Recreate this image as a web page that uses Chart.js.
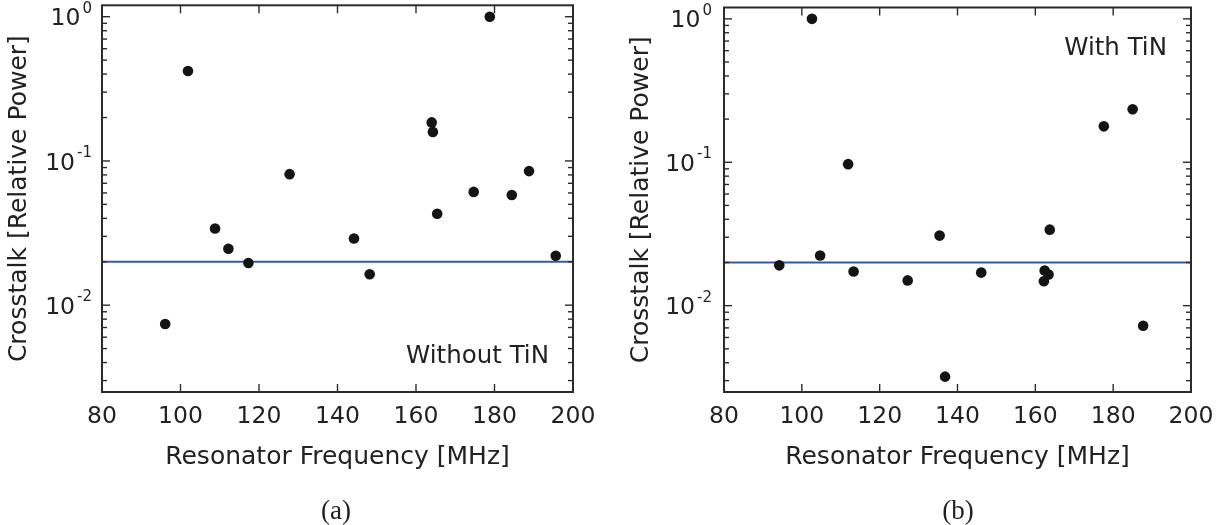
<!DOCTYPE html>
<html><head><meta charset="utf-8">
<script src="https://cdn.jsdelivr.net/npm/chart.js@4/dist/chart.umd.min.js"></script>
<style>
html,body{margin:0;padding:0;background:#fff;}
#wrap{position:relative;width:1231px;height:525px;overflow:hidden;}
#wrap canvas{position:absolute;left:0;top:0;}
.cap{position:absolute;font-family:"Liberation Serif","DejaVu Serif",serif;font-size:27px;color:#222;transform:translateX(-50%);line-height:1;}
</style></head><body>
<div id="wrap">
<canvas id="ca" width="1231" height="525"></canvas>
<canvas id="cb" width="1231" height="525"></canvas>
<div class="cap" style="left:336px;top:497px">(a)</div>
<div class="cap" style="left:958px;top:497px">(b)</div>
</div>
<script>
// ---- data ----
const freqA = [96.1, 101.9, 108.8, 112.2, 117.3, 127.8, 144.2, 148.2, 164.0, 164.3, 165.4, 174.7, 178.8, 184.4, 188.8, 195.6];
const crosstalkA = [0.0074, 0.42, 0.034, 0.0246, 0.0196, 0.081, 0.029, 0.0164, 0.185, 0.159, 0.043, 0.061, 1.0, 0.058, 0.085, 0.022];
const freqB = [94.2, 102.6, 104.7, 111.9, 113.3, 127.2, 135.4, 136.8, 146.1, 162.2, 162.4, 163.4, 163.7, 177.6, 185.0, 187.7];
const crosstalkB = [0.0191, 1.0, 0.0224, 0.097, 0.0173, 0.015, 0.0308, 0.0032, 0.0170, 0.0148, 0.0176, 0.0165, 0.0339, 0.178, 0.234, 0.00725];
const thresholdValue = 0.02;
const xTicks = [80, 100, 120, 140, 160, 180, 200];
const xLimits = [80, 200];
const yDecades = [0.01, 0.1, 1];
const yTickBase = ['10', '10', '10'];
const yTickExp = ['-2', '-1', '0'];
const yLimits = [0.0025, 1.2];
const xTitle = 'Resonator Frequency [MHz]';
const yTitle = 'Crosstalk [Relative Power]';
const labelA = 'Without TiN';
const labelB = 'With TiN';

// ---- style ----
const FONT = '"DejaVu Sans", sans-serif';
const TXT = '#222';
const FRAME = '#2b2b2b';

const framePlugin = {
  id: 'frame',
  afterDatasetsDraw(chart, args, opts) {
    const {ctx, chartArea: a, scales: {x, y}} = chart;
    ctx.save();
    ctx.strokeStyle = FRAME;
    ctx.lineWidth = 1.4;
    const seg = (x1, y1, x2, y2) => { ctx.beginPath(); ctx.moveTo(x1, y1); ctx.lineTo(x2, y2); ctx.stroke(); };
    xTicks.forEach(v => {
      if (v <= xLimits[0] || v >= xLimits[1]) return;
      const px = x.getPixelForValue(v);
      seg(px, a.bottom, px, a.bottom - 8);
      seg(px, a.top, px, a.top + 8);
    });
    for (let d = 0.001; d < 2; d *= 10) {
      for (let m = 1; m <= 9; m++) {
        const v = d * m;
        if (v < yLimits[0] || v > yLimits[1]) continue;
        const py = y.getPixelForValue(v);
        const len = m === 1 ? 8 : 5;
        seg(a.left, py, a.left + len, py);
        seg(a.right, py, a.right - len, py);
      }
    }
    ctx.lineWidth = 2;
    ctx.strokeRect(a.left, a.top, a.right - a.left, a.bottom - a.top);

    // y tick labels with superscript exponents
    ctx.fillStyle = TXT;
    ctx.textBaseline = 'alphabetic';
    ctx.textAlign = 'left';
    yDecades.forEach((v, i) => {
      const py = y.getPixelForValue(v);
      ctx.font = '15px ' + FONT;
      const ew = ctx.measureText(yTickExp[i]).width;
      ctx.font = '23.5px ' + FONT;
      const bw = ctx.measureText(yTickBase[i]).width;
      const right = a.left - opts.labelGap;
      const bx = right - ew - 2 - bw;
      ctx.fillText(yTickBase[i], bx, py + 8.6);
      ctx.font = '15px ' + FONT;
      ctx.fillText(yTickExp[i], right - ew, py - 4);
    });

    ctx.font = '24.5px ' + FONT;
    ctx.textAlign = 'right';
    const ty = opts.atTop ? a.top + 47 : a.bottom - 29;
    ctx.fillText(opts.text, a.right - 24, ty);
    ctx.restore();
  }
};

function makePanel(id, box, xs, ys, text, atTop, labelGap) {
  const pts = xs.map((v, i) => ({x: v, y: ys[i]}));
  const yAxisW = 102, xAxisH = 80;
  return new Chart(document.getElementById(id), {
    type: 'scatter',
    data: {
      datasets: [
        {data: pts, backgroundColor: '#141414', borderColor: '#141414', pointRadius: 5.3, pointBorderWidth: 0, order: 1},
        {type: 'line', data: [{x: xLimits[0], y: thresholdValue}, {x: xLimits[1], y: thresholdValue}],
         borderColor: '#3558a8', borderWidth: 1.8, pointRadius: 0, fill: false, order: 2}
      ]
    },
    options: {
      responsive: false, animation: false, devicePixelRatio: 1,
      layout: {padding: {left: box.left - yAxisW, top: box.top, right: 1231 - box.right, bottom: 525 - box.bottom - xAxisH}},
      plugins: {legend: {display: false}, tooltip: {enabled: false}, frame: {text: text, atTop: atTop, labelGap: labelGap}},
      scales: {
        x: {
          type: 'linear', position: 'bottom', min: xLimits[0], max: xLimits[1],
          afterBuildTicks: s => { s.ticks = xTicks.map(v => ({value: v})); },
          afterFit: s => { s.height = xAxisH; s.paddingLeft = 0; s.paddingRight = 0; },
          grid: {display: false, drawTicks: false},
          border: {display: false},
          ticks: {font: {family: FONT, size: 23.5}, color: TXT, padding: 11, maxRotation: 0, autoSkip: false},
          title: {display: true, text: xTitle, font: {family: FONT, size: 25}, color: TXT, padding: {top: 0, bottom: 0}}
        },
        y: {
          type: 'logarithmic', position: 'left', min: yLimits[0], max: yLimits[1],
          afterBuildTicks: s => { s.ticks = yDecades.map(v => ({value: v})); },
          afterFit: s => { s.width = yAxisW; s.paddingTop = 0; s.paddingBottom = 0; },
          grid: {display: false, drawTicks: false},
          border: {display: false},
          ticks: {
            font: {family: FONT, size: 23.5}, color: TXT, padding: 10, autoSkip: false,
            callback: () => null
          },
          title: {display: true, text: yTitle, font: {family: FONT, size: 25}, color: TXT, padding: {top: 4, bottom: 0}}
        }
      }
    },
    plugins: [framePlugin]
  });
}

makePanel('ca', {left: 102, right: 573, top: 5, bottom: 392}, freqA, crosstalkA, labelA, false, 10);
makePanel('cb', {left: 724, right: 1191, top: 7.5, bottom: 392}, freqB, crosstalkB, labelB, true, 12);
</script>
</body></html>
